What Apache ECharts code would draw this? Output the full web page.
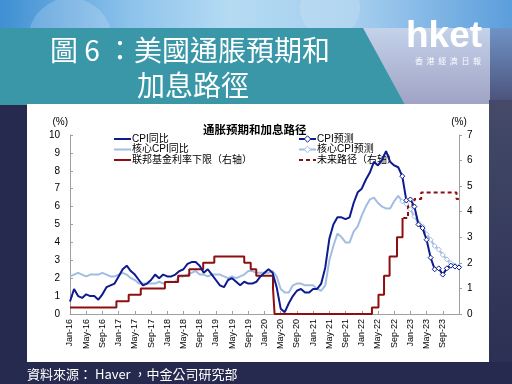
<!DOCTYPE html>
<html><head><meta charset="utf-8">
<script src="https://cdn.jsdelivr.net/npm/echarts@6/dist/echarts.min.js"></script>
<style>html,body{margin:0;padding:0;background:#262a4f;}#c{width:512px;height:384px;}</style>
</head><body><div id="c"></div><script>
// x-axis tick labels (every 4 months from Jan-16)
const tickLabels = ['Jan-16','May-16','Sep-16','Jan-17','May-17','Sep-17','Jan-18','May-18','Sep-18','Jan-19','May-19','Sep-19','Jan-20','May-20','Sep-20','Jan-21','May-21','Sep-21','Jan-22','May-22','Sep-22','Jan-23','May-23','Sep-23'];
// Monthly series, month-end values starting Dec-15 (plotted at the Jan-16 tick)
const cpiActual = [0.7,
 1.4,1.0,0.9,1.1,1.0,1.0,0.8,1.1,1.5,1.6,1.7,2.1,
 2.5,2.7,2.4,2.2,1.9,1.6,1.7,1.9,2.2,2.0,2.2,2.1,
 2.1,2.2,2.4,2.5,2.8,2.9,2.9,2.7,2.3,2.5,2.2,1.9,
 1.6,1.5,1.9,2.0,1.8,1.6,1.8,1.7,1.7,1.8,2.1,2.3,
 2.5,2.3,1.5,0.3,0.1,0.6,1.0,1.3,1.4,1.2,1.2,1.4,
 1.4,1.7,2.6,4.2,5.0,5.4,5.4,5.3,5.4,6.2,6.8,7.0,
 7.5,7.9,8.5,8.3,8.6,9.1,8.5,8.3,8.2,7.7];
const coreActual = [2.1,
 2.2,2.3,2.2,2.1,2.2,2.2,2.2,2.3,2.2,2.1,2.1,2.2,
 2.3,2.2,2.0,1.9,1.7,1.7,1.7,1.7,1.7,1.8,1.7,1.8,
 1.8,1.8,2.1,2.1,2.2,2.3,2.4,2.2,2.2,2.1,2.2,2.2,
 2.2,2.1,2.0,2.1,2.0,2.1,2.2,2.4,2.4,2.3,2.3,2.3,
 2.3,2.4,2.1,1.4,1.2,1.2,1.6,1.7,1.7,1.6,1.6,1.6,
 1.4,1.3,1.6,3.0,3.8,4.5,4.3,4.0,4.0,4.6,4.9,5.5,
 6.0,6.4,6.5,6.2,6.0,5.9,5.9,6.3,6.6,6.3];
// Forecasts from Oct-22 to Dec-23
const forecastStart = 82;
const cpiForecast = [7.7,6.35,6.4,6.0,5.0,4.8,4.15,3.15,2.5,2.55,2.2,2.55,2.7,2.65,2.6];
const coreForecast = [6.3,6.15,5.85,5.45,5.1,4.9,4.45,4.15,3.8,3.6,3.3,3.05,2.85,2.72,2.65];
// Fed funds lower bound (right axis): change dates and levels
const fedDates  = ['2016-01-01','2016-12-15','2017-03-16','2017-06-15','2017-12-14','2018-03-22','2018-06-14','2018-09-27','2018-12-20','2019-08-01','2019-09-19','2019-10-31','2020-03-04','2020-03-16','2022-03-17','2022-05-05','2022-06-16','2022-07-28','2022-09-22','2022-11-03','2022-11-08'];
const fedLevels = [0.25,0.5,0.75,1.0,1.25,1.5,1.75,2.0,2.25,2.0,1.75,1.5,1.0,0,0.25,0.75,1.5,2.25,3.0,3.75,3.75];
const pathDates  = ['2022-11-08','2022-12-14','2023-02-01','2023-03-22','2023-12-13','2023-12-31'];
const pathLevels = [3.75,4.25,4.5,4.75,4.5,4.5];

function toX(s){const p=s.split('-').map(Number);const dim=new Date(p[0],p[1],0).getDate();return (p[0]-2016)*12+(p[1]-1)+(p[2]-1)/dim;}

const NAVY='#0d1b8e', LB='#a2bde2', RED='#8e0f0f';
const FONT='Liberation Sans, Noto Sans CJK SC, sans-serif';
const legendText = {fontSize:10, lineHeight:8, color:'#000', fontFamily:FONT, padding:[0,0,0,-4]};
const chart = echarts.init(document.getElementById('c'));
chart.setOption({
  animation:false,
  backgroundColor:'#262a4f',
  graphic:[
    {type:'rect', z:-100, shape:{x:0,y:0,width:512,height:105}, style:{fill:new echarts.graphic.LinearGradient(0,0,1,0,[{offset:0,color:'#3f8fd2'},{offset:0.25,color:'#8cc2ec'},{offset:0.45,color:'#b5dbf3'},{offset:0.7,color:'#a4cdee'},{offset:1,color:'#5b9edc'}])}},
    {type:'circle', z:-99, shape:{cx:70,cy:40,r:42}, style:{fill:'rgba(255,255,255,0.18)'}},
    {type:'circle', z:-99, shape:{cx:330,cy:8,r:30}, style:{fill:'rgba(255,255,255,0.15)'}},
    {type:'polygon', z:-98, shape:{points:[[363,28],[512,28],[512,105],[405,105]]}, style:{fill:new echarts.graphic.LinearGradient(0,0,0,1,[{offset:0,color:'#c4d2ea'},{offset:1,color:'#9fa2c4'}])}},
    {type:'rect', z:-98, shape:{x:490,y:28,width:22,height:77}, style:{fill:new echarts.graphic.LinearGradient(0,0,0,1,[{offset:0,color:'#6f93c6'},{offset:1,color:'#4a5078'}])}},
    {type:'polygon', z:-97, shape:{points:[[0,28],[363,28],[405,105],[0,105]]}, style:{fill:'#3997a8'}},
    {type:'rect', z:-97, shape:{x:0,y:105,width:512,height:279}, style:{fill:'#262a4f'}},
    {type:'rect', z:-96, shape:{x:489,y:100,width:23,height:262}, style:{fill:new echarts.graphic.LinearGradient(0,0,0,1,[{offset:0,color:'#444a68'},{offset:1,color:'#2b3054'}])}},
    {type:'rect', z:-95, shape:{x:27,y:104,width:462,height:258}, style:{fill:'#ffffff'}},
    {type:'text', z:10, x:50, y:50, style:{text:'圖 6 ：美國通脹預期和', fill:'#ffffff', font:'28px "Noto Sans CJK TC", sans-serif', textVerticalAlign:'middle'}},
    {type:'text', z:10, x:137, y:85, style:{text:'加息路徑', fill:'#ffffff', font:'28px "Noto Sans CJK TC", sans-serif', textVerticalAlign:'middle'}},
    {type:'text', z:10, x:406, y:37, style:{text:'hket', fill:'#ffffff', font:'bold 37px "Liberation Sans", sans-serif', textVerticalAlign:'middle'}},
    {type:'text', z:10, x:448, y:61, style:{text:'香  港  經  濟  日  報', fill:'#ffffff', font:'8px "Noto Sans CJK TC", sans-serif', textAlign:'center', textVerticalAlign:'middle'}},
    {type:'text', z:10, x:27, y:374, style:{text:'資料來源： Haver ，中金公司研究部', fill:'#ffffff', font:'13px "Noto Sans CJK TC", sans-serif', textVerticalAlign:'middle'}}
  ],
  title:{text:'通胀预期和加息路径', left:198, top:119, textStyle:{fontSize:11.5, fontWeight:'bold', color:'#000', fontFamily:'Noto Sans CJK SC'}},
  legend:[
    {left:108, top:129, orient:'vertical', itemWidth:17, itemHeight:8, itemGap:0.5, textStyle:legendText,
     data:[{name:'CPI同比', itemStyle:{opacity:0}},{name:'核心CPI同比', itemStyle:{opacity:0}},{name:'联邦基金利率下限（右轴）', itemStyle:{opacity:0}}]},
    {left:293, top:129, orient:'vertical', itemWidth:17, itemHeight:8, itemGap:0.5, textStyle:legendText,
     data:[{name:'CPI预测', itemStyle:{color:'#fff', borderColor:NAVY, borderWidth:1}},{name:'核心CPI预测', itemStyle:{color:'#fff', borderColor:LB, borderWidth:1}},{name:'未来路径（右轴）', itemStyle:{opacity:0}}]}
  ],
  grid:{left:70, right:53, top:135, bottom:70},
  xAxis:{type:'value', min:0, max:96, interval:4,
    axisLine:{lineStyle:{color:'#a0a0a0'}}, axisTick:{inside:true, length:3, lineStyle:{color:'#a0a0a0'}},
    splitLine:{show:false},
    axisLabel:{rotate:90, fontSize:9, color:'#000', fontFamily:FONT, margin:5, formatter:v=> (v<96 ? tickLabels[v/4] : '')}},
  yAxis:[
    {type:'value', min:0, max:10, interval:1, name:'(%)', nameLocation:'end', nameGap:8, nameTextStyle:{fontSize:10, color:'#000', fontFamily:FONT, align:'right', padding:[0,2,0,0]},
     axisLine:{show:true, lineStyle:{color:'#a0a0a0'}}, axisTick:{show:true, inside:true, length:3, lineStyle:{color:'#a0a0a0'}}, splitLine:{show:false},
     axisLabel:{fontSize:10, color:'#000', fontFamily:FONT, margin:10}},
    {type:'value', min:0, max:7, interval:1, name:'(%)', nameLocation:'end', nameGap:8, nameTextStyle:{fontSize:10, color:'#000', fontFamily:FONT},
     axisLine:{show:true, lineStyle:{color:'#a0a0a0'}}, axisTick:{show:true, length:3, lineStyle:{color:'#a0a0a0'}}, splitLine:{show:false},
     axisLabel:{fontSize:10, color:'#000', fontFamily:FONT, margin:8}}
  ],
  series:[
    {name:'CPI同比', type:'line', yAxisIndex:0, z:5, symbol:'none', data:cpiActual.map((v,i)=>[i,v]), lineStyle:{color:NAVY,width:2}, itemStyle:{color:NAVY}},
    {name:'核心CPI同比', type:'line', yAxisIndex:0, z:3, symbol:'none', data:coreActual.map((v,i)=>[i,v]), lineStyle:{color:LB,width:2}, itemStyle:{color:LB}},
    {name:'联邦基金利率下限（右轴）', type:'line', yAxisIndex:1, z:4, step:'end', symbol:'none', data:fedDates.map((d,i)=>[toX(d),fedLevels[i]]), lineStyle:{color:RED,width:2}, itemStyle:{color:RED}},
    {name:'CPI预测', type:'line', yAxisIndex:0, z:6, symbol:'diamond', symbolSize:5, showSymbol:true, data:cpiForecast.map((v,i)=>[forecastStart+i,v]), lineStyle:{color:NAVY,width:2}, itemStyle:{color:'#fff', borderColor:NAVY, borderWidth:1}},
    {name:'核心CPI预测', type:'line', yAxisIndex:0, z:4, symbol:'diamond', symbolSize:5, showSymbol:true, data:coreForecast.map((v,i)=>[forecastStart+i,v]), lineStyle:{color:LB,width:2}, itemStyle:{color:'#fff', borderColor:LB, borderWidth:1}},
    {name:'未来路径（右轴）', type:'line', yAxisIndex:1, z:4, step:'end', symbol:'none', data:pathDates.map((d,i)=>[toX(d),pathLevels[i]]), lineStyle:{color:RED,width:2,type:[4,3]}, itemStyle:{color:RED}}
  ]
});
</script></body></html>
